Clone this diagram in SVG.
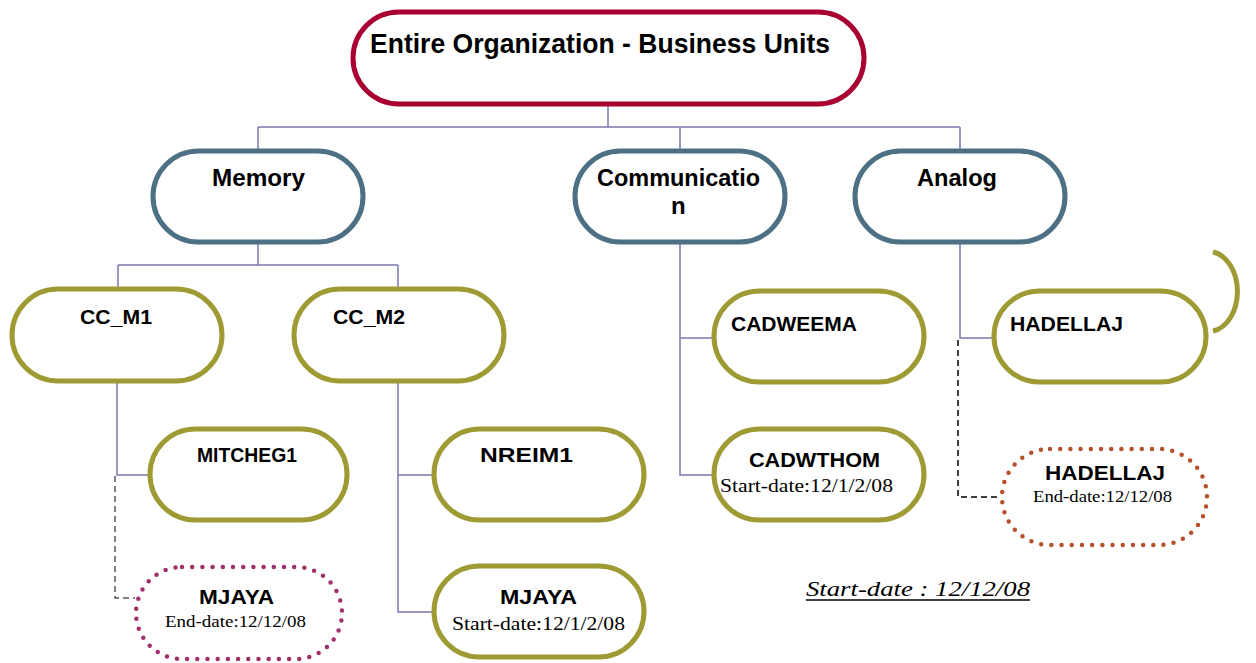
<svg xmlns="http://www.w3.org/2000/svg" width="1256" height="663" viewBox="0 0 1256 663">
<style>
.n{fill:#fff;stroke-width:5}
.top{stroke:#A80030}
.bu{stroke:#4E7085}
.ol{stroke:#9E9B34}
.dp{fill:#fff;stroke:#A0306A;stroke-width:4.5;stroke-dasharray:0 10.2;stroke-linecap:round}
.db{fill:#fff;stroke:#B5502A;stroke-width:4.5;stroke-dasharray:0 10.2;stroke-linecap:round}
.c{fill:none;stroke:#7878B0;stroke-width:1.5}
.d{fill:none;stroke:#555;stroke-width:1.5;stroke-dasharray:6 4}
.b{font-family:"Liberation Sans",Arial,sans-serif;font-weight:bold;fill:#000}
.s{font-family:"Liberation Serif","Times New Roman",serif;fill:#000}
</style>
<rect width="1256" height="663" fill="#fff"/>
<g id="connectors">
<path class="c" d="M608,105V127M258,127H960M258,127V150M680,127V150M960,127V150"/>
<path class="c" d="M258,243V265M118,265H398M118,265V289M398,265V289"/>
<path class="c" d="M117,382V475H150M398,382V612H434M398,475H434"/>
<path class="c" d="M680,243V475H714M680,338H714"/>
<path class="c" d="M960,243V338H994"/>
<path class="d" d="M115,476V598H135"/>
<path class="d" style="stroke:#000" d="M958,340V497H1001"/>
<path fill="none" stroke="#9E9B34" stroke-width="5" d="M1213,252A29,40 0 0 1 1213,331"/>
</g>
<g id="n-top"><rect class="n top" x="353" y="12" width="511" height="92" rx="46"/><text class="b" x="370" y="53" font-size="27" textLength="460" lengthAdjust="spacingAndGlyphs">Entire Organization - Business Units</text></g>
<g id="n-memory"><rect class="n bu" x="153" y="151" width="210" height="91" rx="45.5"/><text class="b" x="212" y="186" font-size="24" textLength="93" lengthAdjust="spacingAndGlyphs">Memory</text></g>
<g id="n-communication"><rect class="n bu" x="575" y="151" width="210" height="91" rx="45.5"/><text class="b" x="597" y="186" font-size="24" textLength="163" lengthAdjust="spacingAndGlyphs">Communicatio</text><text class="b" x="671" y="214" font-size="24">n</text></g>
<g id="n-analog"><rect class="n bu" x="855" y="151" width="210" height="91" rx="45.5"/><text class="b" x="917" y="186" font-size="24" textLength="80" lengthAdjust="spacingAndGlyphs">Analog</text></g>
<g id="n-ccm1"><rect class="n ol" x="12" y="289" width="210" height="92" rx="46"/><text class="b" x="80" y="324" font-size="20" textLength="72" lengthAdjust="spacingAndGlyphs">CC_M1</text></g>
<g id="n-ccm2"><rect class="n ol" x="294" y="289" width="210" height="92" rx="46"/><text class="b" x="333" y="324" font-size="20" textLength="72" lengthAdjust="spacingAndGlyphs">CC_M2</text></g>
<g id="n-cadweema"><rect class="n ol" x="714" y="291" width="210" height="91" rx="45.5"/><text class="b" x="731" y="331" font-size="20" textLength="126" lengthAdjust="spacingAndGlyphs">CADWEEMA</text></g>
<g id="n-hadellaj"><rect class="n ol" x="994" y="291" width="212" height="91" rx="45.5"/><text class="b" x="1010" y="331" font-size="20" textLength="113" lengthAdjust="spacingAndGlyphs">HADELLAJ</text></g>
<g id="n-mitcheg1"><rect class="n ol" x="150" y="429" width="197" height="91" rx="45.5"/><text class="b" x="197" y="462" font-size="20" textLength="100" lengthAdjust="spacingAndGlyphs">MITCHEG1</text></g>
<g id="n-nreim1"><rect class="n ol" x="434" y="429" width="210" height="91" rx="45.5"/><text class="b" x="480" y="462" font-size="20" textLength="93" lengthAdjust="spacingAndGlyphs">NREIM1</text></g>
<g id="n-cadwthom"><rect class="n ol" x="714" y="429" width="210" height="91" rx="45.5"/><text class="b" x="749" y="467" font-size="20" textLength="131" lengthAdjust="spacingAndGlyphs">CADWTHOM</text><text class="s" x="720" y="492" font-size="19" textLength="173" lengthAdjust="spacingAndGlyphs">Start-date:12/1/2/08</text></g>
<g id="n-hadellaj-end"><rect class="db" x="1002" y="449" width="205" height="96" rx="48"/><text class="b" x="1045" y="480" font-size="20" textLength="120" lengthAdjust="spacingAndGlyphs">HADELLAJ</text><text class="s" x="1033" y="502" font-size="17" textLength="139" lengthAdjust="spacingAndGlyphs">End-date:12/12/08</text></g>
<g id="n-mjaya-end"><rect class="dp" x="136" y="567" width="206" height="92" rx="46"/><text class="b" x="199" y="604" font-size="20" textLength="75" lengthAdjust="spacingAndGlyphs">MJAYA</text><text class="s" x="165" y="627" font-size="17" textLength="141" lengthAdjust="spacingAndGlyphs">End-date:12/12/08</text></g>
<g id="n-mjaya-start"><rect class="n ol" x="434" y="566" width="210" height="91" rx="45.5"/><text class="b" x="500" y="604" font-size="20" textLength="77" lengthAdjust="spacingAndGlyphs">MJAYA</text><text class="s" x="452" y="630" font-size="19" textLength="173" lengthAdjust="spacingAndGlyphs">Start-date:12/1/2/08</text></g>
<g id="note"><text class="s" x="806" y="596" font-size="22" font-style="italic" textLength="224" lengthAdjust="spacingAndGlyphs">Start-date : 12/12/08</text><path d="M806,600H1030" stroke="#000" stroke-width="1.3"/></g>
</svg>
